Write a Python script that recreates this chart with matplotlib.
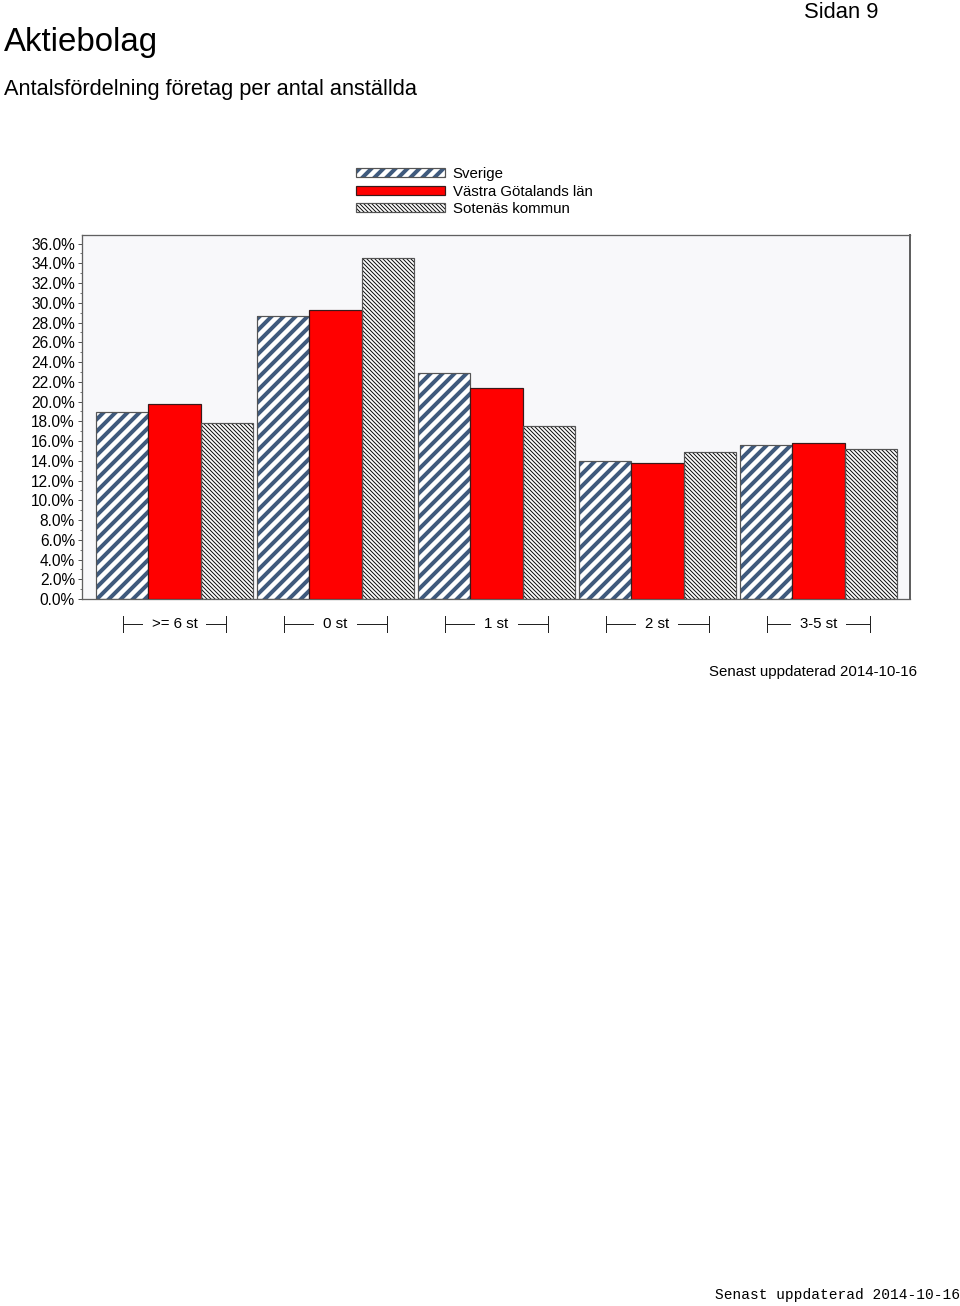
import matplotlib
matplotlib.use("Agg")
import matplotlib.pyplot as plt
import numpy as np
from matplotlib.patches import Patch
from matplotlib.legend_handler import HandlerTuple
from matplotlib.ticker import MultipleLocator, FuncFormatter
import matplotlib.transforms as mtransforms

categories = [">= 6 st", "0 st", "1 st", "2 st", "3-5 st"]
series_names = ["Sverige", "Västra Götalands län", "Sotenäs kommun"]
sverige = [18.9, 28.7, 22.85, 13.95, 15.57]
vastra = [19.74, 29.3, 21.33, 13.75, 15.8]
sotenas = [17.8, 34.58, 17.55, 14.89, 15.17]
yticks = np.arange(0, 37, 2)

plt.rcParams['font.family'] = ['Liberation Sans', 'DejaVu Sans']

DPI = 72
fig = plt.figure(figsize=(960 / DPI, 1306 / DPI), dpi=DPI)
W, H = 960, 1306
ax = fig.add_axes([82 / W, 1 - 599 / H, (910 - 82) / W, (599 - 235) / H])
ax.set_facecolor('#f8f8fa')

BLUE = '#3f5a7d'
EDGE = '#555555'
H_SV = '//'
H_SO = '\\' * 6
LW_SV = 4.0
LW_SO = 1.0
x = np.arange(len(categories))
bw = 0.326


def hatched(xpos, vals, hatch, hcolor, hlw):
    with plt.rc_context({'hatch.linewidth': hlw, 'hatch.color': hcolor}):
        bars = ax.bar(xpos, vals, bw, color='white', edgecolor=hcolor,
                      linewidth=0, hatch=hatch, zorder=2)
        for b in bars:
            if hasattr(b, 'set_hatch_linewidth'):
                b.set_hatch_linewidth(hlw)
        ax.bar(xpos, vals, bw, color='none', edgecolor=EDGE, linewidth=1.2, zorder=3)
        hp = Patch(facecolor='white', edgecolor=hcolor, linewidth=0, hatch=hatch)
        if hasattr(hp, 'set_hatch_linewidth'):
            hp.set_hatch_linewidth(hlw)
    return hp


h1 = hatched(x - bw, sverige, H_SV, BLUE, LW_SV)
ax.bar(x, vastra, bw, color='#ff0000', edgecolor='#3a1a1a', linewidth=1.2, zorder=3)
h3 = hatched(x + bw, sotenas, H_SO, '#111111', LW_SO)

ax.set_xlim(-0.575, 4.57)
ax.set_ylim(0, 36.87)
ax.yaxis.set_major_locator(MultipleLocator(2))
ax.yaxis.set_minor_locator(MultipleLocator(1))
ax.yaxis.set_major_formatter(FuncFormatter(lambda v, p: f"{v:.1f}%"))
ax.tick_params(axis='y', which='major', length=4, width=1, color='#555555',
               labelsize=15.5, pad=3)
ax.tick_params(axis='y', which='minor', length=2, width=1, color='#777777')
ax.set_xticks([])
for s in ax.spines.values():
    s.set_color('#606060')
    s.set_linewidth(1.3)
ax.spines['right'].set_linewidth(2.0)

# category labels with bracket lines
trans = mtransforms.blended_transform_factory(ax.transData, ax.transAxes)
yl = -25 / 364
dv = 8 / 364
half = 0.32
for xi, cat in zip(x, categories):
    ax.plot([xi - half, xi + half], [yl, yl], color='#222222', lw=1,
            transform=trans, clip_on=False)
    ax.plot([xi - half, xi - half], [yl - dv, yl + dv], color='#222222', lw=1,
            transform=trans, clip_on=False)
    ax.plot([xi + half, xi + half], [yl - dv, yl + dv], color='#222222', lw=1,
            transform=trans, clip_on=False)
    ax.text(xi, yl, cat, transform=trans, ha='center', va='center', fontsize=15,
            bbox=dict(boxstyle='square,pad=0.6', fc='white', ec='none'))

# legend
p_edge1 = Patch(facecolor='none', edgecolor=EDGE, linewidth=1.2)
p_red = Patch(facecolor='#ff0000', edgecolor='#3a1a1a', linewidth=1.2)
p_edge3 = Patch(facecolor='none', edgecolor=EDGE, linewidth=1.2)
leg = fig.legend([(h1, p_edge1), p_red, (h3, p_edge3)], series_names,
                 handler_map={tuple: HandlerTuple(ndivide=1)},
                 loc='upper left', bbox_to_anchor=(356 / W, 1 - 167 / H),
                 frameon=False, fontsize=15, handlelength=5.9, handleheight=0.55,
                 handletextpad=0.55, labelspacing=0.24, borderaxespad=0,
                 borderpad=0)
for p in leg.get_patches():
    hs = p.get_hatch()
    if hs == H_SV:
        p.set_hatch_linewidth(LW_SV)
        p._hatch_color = matplotlib.colors.to_rgba(BLUE)
    elif hs == H_SO:
        p.set_hatch_linewidth(LW_SO)

fig.text(4 / W, 1 - 43 / H, "Aktiebolag", fontsize=33, va='center', ha='left')
fig.text(4 / W, 1 - 89 / H, "Antalsfördelning företag per antal anställda",
         fontsize=21.7, va='center', ha='left')
fig.text(878 / W, 1 - 12 / H, "Sidan 9", fontsize=22, va='center', ha='right')
fig.text(917 / W, 1 - 672 / H, "Senast uppdaterad 2014-10-16", fontsize=15,
         va='center', ha='right')
fig.text(960 / W, 1 - 1295 / H, "Senast uppdaterad 2014-10-16", fontsize=14.5,
         va='center', ha='right', family=['Liberation Mono', 'DejaVu Sans Mono'])

fig.savefig('out.png', dpi=DPI, facecolor='white')
